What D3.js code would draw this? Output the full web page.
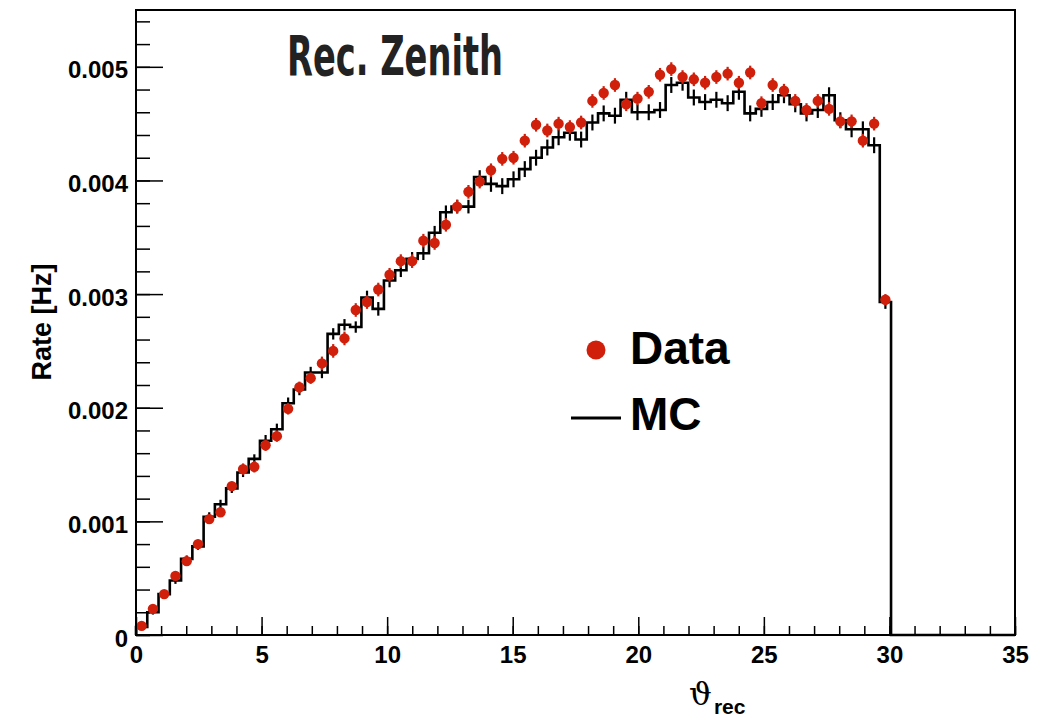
<!DOCTYPE html>
<html>
<head>
<meta charset="utf-8">
<script src="https://cdn.jsdelivr.net/npm/d3@7"></script>
<style>
  body { margin: 0; background: #fff; }
  svg { display: block; }
</style>
</head>
<body>
<svg class="chart"></svg>
<script>
// rec. zenith rate, data vs MC, bins of 35/78 deg

var dataRate = [
  0.00008, 0.00023, 0.00036, 0.00052, 0.00065, 0.00080, 0.00102, 0.00108, 0.00131, 0.00146,
  0.00148, 0.00167, 0.00175, 0.00199, 0.00218, 0.00226, 0.00239, 0.00250, 0.00261, 0.00286,
  0.00293, 0.00304, 0.00317, 0.00329, 0.00329, 0.00347, 0.00345, 0.00361, 0.00377, 0.00390,
  0.00399, 0.00409, 0.00419, 0.00420, 0.00435, 0.00449, 0.00444, 0.00450, 0.00447, 0.00451,
  0.00470, 0.00477, 0.00484, 0.00467, 0.00472, 0.00478, 0.00493, 0.00498, 0.00491, 0.00489,
  0.00486, 0.00491, 0.00494, 0.00486, 0.00495, 0.00468, 0.00484, 0.00479, 0.00470, 0.00462,
  0.00470, 0.00463, 0.00452, 0.00452, 0.00435, 0.00450, 0.00295
];
var dataErr = [
  0.00002, 0.00002, 0.00003, 0.00003, 0.00003, 0.00004, 0.00004, 0.00004, 0.00004, 0.00005,
  0.00005, 0.00005, 0.00005, 0.00005, 0.00005, 0.00005, 0.00006, 0.00006, 0.00006, 0.00006,
  0.00006, 0.00006, 0.00006, 0.00006, 0.00006, 0.00006, 0.00006, 0.00006, 0.00006, 0.00006,
  0.00006, 0.00006, 0.00006, 0.00006, 0.00006, 0.00006, 0.00006, 0.00006, 0.00006, 0.00006,
  0.00006, 0.00006, 0.00006, 0.00006, 0.00006, 0.00006, 0.00006, 0.00006, 0.00006, 0.00006,
  0.00006, 0.00006, 0.00006, 0.00006, 0.00006, 0.00006, 0.00006, 0.00006, 0.00006, 0.00006,
  0.00006, 0.00006, 0.00006, 0.00006, 0.00006, 0.00006, 0.00005
];
var mcRate = [
  0.00007, 0.00020, 0.00036, 0.00048, 0.00067, 0.00078, 0.00104, 0.00115, 0.00129, 0.00143,
  0.00155, 0.00171, 0.00181, 0.00204, 0.00216, 0.00231, 0.00231, 0.00265, 0.00273, 0.00271,
  0.00297, 0.00287, 0.00312, 0.00321, 0.00331, 0.00336, 0.00354, 0.00372, 0.00377, 0.00377,
  0.00403, 0.00397, 0.00395, 0.00401, 0.00410, 0.00420, 0.00429, 0.00438, 0.00442, 0.00436,
  0.00451, 0.00459, 0.00457, 0.00471, 0.00460, 0.00460, 0.00462, 0.00484, 0.00486, 0.00473,
  0.00469, 0.00471, 0.00468, 0.00478, 0.00459, 0.00463, 0.00469, 0.00475, 0.00467, 0.00459,
  0.00462, 0.00475, 0.00453, 0.00445, 0.00445, 0.00431, 0.00293,
  0, 0, 0, 0, 0, 0, 0, 0, 0, 0, 0
];
var mcErr = [
  0.00002, 0.00002, 0.00003, 0.00003, 0.00003, 0.00003, 0.00004, 0.00004, 0.00004, 0.00004,
  0.00004, 0.00005, 0.00005, 0.00005, 0.00005, 0.00005, 0.00005, 0.00005, 0.00005, 0.00005,
  0.00006, 0.00006, 0.00006, 0.00006, 0.00006, 0.00006, 0.00006, 0.00006, 0.00006, 0.00006,
  0.00006, 0.00007, 0.00007, 0.00007, 0.00007, 0.00007, 0.00007, 0.00007, 0.00007, 0.00007,
  0.00007, 0.00007, 0.00007, 0.00007, 0.00007, 0.00007, 0.00007, 0.00007, 0.00007, 0.00007,
  0.00007, 0.00007, 0.00007, 0.00007, 0.00007, 0.00007, 0.00007, 0.00007, 0.00007, 0.00007,
  0.00007, 0.00007, 0.00007, 0.00007, 0.00007, 0.00007, 0.00006
];
var xTicks = [0, 5, 10, 15, 20, 25, 30, 35];
var yTicks = [0, 0.001, 0.002, 0.003, 0.004, 0.005];
var xMin = 0, xMax = 35, nBins = 78;
var yMax = 0.0055;

var ui = {
  width: 1058,
  height: 718,
  left: 136,
  right: 1015,
  top: 10,
  bottom: 635,
  red: 'rgb(208, 32, 12)',
  font: '"Liberation Sans", Arial, Helvetica, sans-serif'
}

var chart = d3.select(".chart")
  .attr("width", ui.width)
  .attr("height", ui.height);

var x = d3.scaleLinear().domain([xMin, xMax]).range([ui.left, ui.right]);
var y = d3.scaleLinear().domain([0, yMax]).range([ui.bottom, ui.top]);
var bw = (xMax - xMin) / nBins;

// minor + major ticks, pointing inward like ROOT
function styleAxis(g) {
  g.select(".domain").remove();
  g.selectAll("line").attr("stroke", "#000").attr("stroke-width", 1.5);
  g.selectAll("text")
    .attr("fill", "#000")
    .style("font-family", ui.font)
    .style("font-weight", "bold")
    .style("font-size", "24px");
}

chart.append("g")
  .attr("transform", "translate(0," + ui.bottom + ")")
  .call(d3.axisBottom(x).tickValues(d3.range(0, 36, 1)).tickSize(-9).tickFormat(""))
  .call(styleAxis);
chart.append("g")
  .attr("transform", "translate(0," + ui.bottom + ")")
  .call(d3.axisBottom(x).tickValues(xTicks).tickSize(-18).tickPadding(11).tickFormat(d3.format("d")))
  .call(styleAxis);

chart.append("g")
  .attr("transform", "translate(" + ui.left + ",0)")
  .call(d3.axisLeft(y).tickValues(d3.range(0, 0.00545, 0.0002)).tickSize(-14).tickFormat(""))
  .call(styleAxis);
chart.append("g")
  .attr("transform", "translate(" + ui.left + ",0)")
  .call(d3.axisLeft(y).tickValues(yTicks).tickSize(-27).tickPadding(8)
    .tickFormat(function(d) { return d === 0 ? "0" : d3.format(".3f")(d); }))
  .call(styleAxis)
  .selectAll("text").attr("dy", "0.46em");

// MC histogram staircase
var pts = [[x(0), y(0)]];
mcRate.forEach(function(v, i) {
  pts.push([x(i * bw), y(v)]);
  pts.push([x((i + 1) * bw), y(v)]);
});
pts.push([x(xMax), y(0)]);

chart.append("path")
  .attr("d", d3.line()(pts))
  .attr("fill", "none")
  .attr("stroke", "#000")
  .attr("stroke-width", 2.6)
  .attr("stroke-linejoin", "miter");

// MC error bars
chart.selectAll(".mc-err")
  .data(mcErr)
  .enter().append("line")
  .attr("class", "mc-err")
  .attr("x1", function(d, i) { return x((i + 0.5) * bw); })
  .attr("x2", function(d, i) { return x((i + 0.5) * bw); })
  .attr("y1", function(d, i) { return y(mcRate[i] - d); })
  .attr("y2", function(d, i) { return y(mcRate[i] + d); })
  .attr("stroke", "#000")
  .attr("stroke-width", 2.2);

// data points
chart.selectAll(".data-err")
  .data(dataRate)
  .enter().append("line")
  .attr("class", "data-err")
  .attr("x1", function(d, i) { return x((i + 0.5) * bw); })
  .attr("x2", function(d, i) { return x((i + 0.5) * bw); })
  .attr("y1", function(d, i) { return y(d - dataErr[i]); })
  .attr("y2", function(d, i) { return y(d + dataErr[i]); })
  .attr("stroke", ui.red)
  .attr("stroke-width", 2.2);

chart.selectAll(".data-pt")
  .data(dataRate)
  .enter().append("circle")
  .attr("class", "data-pt")
  .attr("cx", function(d, i) { return x((i + 0.5) * bw); })
  .attr("cy", function(d) { return y(d); })
  .attr("r", 5.2)
  .attr("fill", ui.red);

// frame
chart.append("rect")
  .attr("x", ui.left)
  .attr("y", ui.top)
  .attr("width", ui.right - ui.left)
  .attr("height", ui.bottom - ui.top)
  .attr("fill", "none")
  .attr("stroke", "#000")
  .attr("stroke-width", 2);

// title
chart.append("text")
  .attr("x", 287)
  .attr("y", 75)
  .attr("textLength", 216)
  .attr("lengthAdjust", "spacingAndGlyphs")
  .style("font-family", '"Liberation Sans Narrow", "DejaVu Sans Condensed", "Liberation Sans", sans-serif')
  .style("font-weight", "bold")
  .style("font-size", "56px")
  .attr("fill", "#222")
  .text("Rec. Zenith");

// axis titles
chart.append("text")
  .attr("transform", "translate(51,322) rotate(-90)")
  .attr("text-anchor", "middle")
  .style("font-family", ui.font)
  .style("font-weight", "bold")
  .style("font-size", "27px")
  .text("Rate [Hz]");

var xt = chart.append("text")
  .attr("x", 689)
  .attr("y", 705)
  .style("font-family", '"DejaVu Serif", serif')
  .style("font-size", "32px")
  .text("\u03D1");
xt.append("tspan")
  .attr("dy", 9)
  .attr("dx", 2)
  .style("font-family", ui.font)
  .style("font-weight", "bold")
  .style("font-size", "21px")
  .text("rec");

// legend
var legend = chart.append("g");
legend.append("circle")
  .attr("cx", 596).attr("cy", 350).attr("r", 9.5)
  .attr("fill", ui.red);
legend.append("line")
  .attr("x1", 571).attr("x2", 621).attr("y1", 418).attr("y2", 418)
  .attr("stroke", "#000").attr("stroke-width", 3.2);
legend.selectAll("text")
  .data(["Data", "MC"])
  .enter().append("text")
  .attr("x", 630)
  .attr("y", function(d, i) { return 364 + i * 66; })
  .style("font-family", ui.font)
  .style("font-weight", "bold")
  .style("font-size", "46px")
  .text(function(d) { return d; });
</script>
</body>
</html>
